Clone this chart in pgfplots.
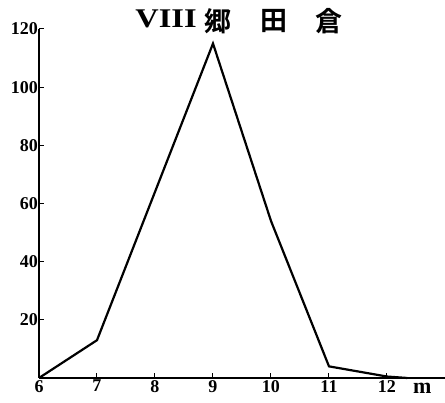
\documentclass[border=0pt]{standalone}
\usepackage{pgfplots}
\pgfplotsset{compat=1.18}
\usepackage{graphicx}
\usepackage{fontspec}
\setmainfont{Liberation Serif}
\newfontfamily\cjk{Noto Sans CJK JP}[BoldFont={* Bold}]

\begin{document}
\begin{tikzpicture}
  \path[use as bounding box] (0,0) rectangle (445pt,403pt);
  \begin{axis}[
    at={(39pt,25pt)}, anchor=south west,
    scale only axis,
    width=406pt, height=349pt,
    xmin=6, xmax=13, ymin=0, ymax=120,
    axis x line=bottom, axis y line=left,
    axis line style={-, line width=1.4pt},
    xtick={6,7,8,9,10,11,12},
    ytick={20,40,60,80,100,120},
    tick style={black, line width=1pt},
    major tick length=5pt,
    tick align=inside,
    ticklabel style={font=\fontsize{18}{20}\selectfont\bfseries},
    /pgf/number format/assume math mode=true,
    yticklabel style={inner sep=1pt},
    xticklabel style={inner sep=2pt},
    clip=false,
  ]
    \addplot[black, line width=2.2pt, line join=miter] coordinates {
      (6,0) (7,13) (8,64) (9,115) (10,54) (11,4) (12,0.5) (12.35,0)
    };
    % title, one piece at a time to keep the spacing of the print
    \node[anchor=center, inner sep=0pt, font=\fontsize{27}{29}\selectfont\bfseries]
      at (rel axis cs:0.313,1.029) {\scalebox{1.2}[1]{VIII}};
    \node[anchor=center, inner sep=0pt, font=\fontsize{27}{29}\selectfont\cjk\bfseries]
      at (rel axis cs:0.440,1.023) {郷};
    \node[anchor=center, inner sep=0pt, font=\fontsize{27}{29}\selectfont\cjk\bfseries]
      at (rel axis cs:0.578,1.023) {田};
    \node[anchor=center, inner sep=0pt, font=\fontsize{27}{29}\selectfont\cjk\bfseries]
      at (rel axis cs:0.714,1.023) {倉};
    \node[anchor=north, inner sep=0pt, font=\fontsize{22}{24}\selectfont\bfseries]
      at (axis cs:12.61,-1.8) {m};
  \end{axis}
\end{tikzpicture}
\end{document}
